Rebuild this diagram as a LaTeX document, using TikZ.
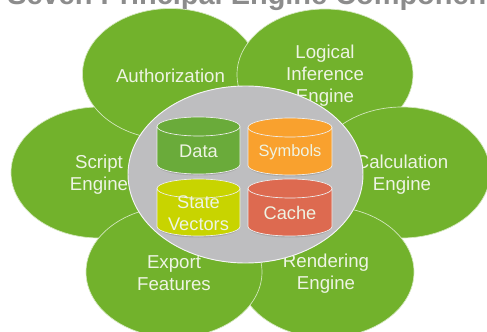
\documentclass[tikz,border=0pt]{standalone}
\usepackage{fontspec}
\setmainfont{Liberation Sans}
\usetikzlibrary{shapes.geometric}

\definecolor{petalgreen}{HTML}{72B22C}
\definecolor{hubgray}{HTML}{BEBEC0}
\definecolor{titlegray}{HTML}{8C8C8C}
\definecolor{labelwhite}{HTML}{EEF4E4}
\definecolor{datagreen}{HTML}{6AAB3A}
\definecolor{symorange}{HTML}{F9A12E}
\definecolor{statelime}{HTML}{C8D400}
\definecolor{cachered}{HTML}{DD6A50}

\tikzset{
  petal/.style={ellipse, draw=white!70!petalgreen, line width=0.5pt, fill=petalgreen, minimum width=132pt, minimum height=98.25pt, inner sep=0pt},
  petaltext/.style={text=labelwhite, align=center, font=\fontsize{14pt}{16.5pt}\selectfont},
  hub/.style={ellipse, draw=white!85!hubgray, line width=0.7pt, fill=hubgray, minimum width=176.25pt, minimum height=132.75pt, inner sep=0pt},
  drumline/.style={draw=white!75!hubgray, line width=0.5pt},
  drumtext/.style={text=labelwhite, align=center, font=\fontsize{13.7pt}{16.5pt}\selectfont}
}

% drum: centre x, top ellipse y, bottom ellipse y, half width, fill colour
\newcommand{\drum}[5]{
  \fill [gray!80, opacity=0.6] (#1-#4+1,#3) -- (#1-#4+1,#3+1.5) arc [start angle=180, end angle=0, x radius=#4-1, y radius=9.5] -- (#1+#4-1,#3) -- cycle;
  \draw [drumline, fill=#5] (#1-#4,#2) -- (#1-#4,#3) arc [start angle=180, end angle=0, x radius=#4, y radius=9.5] -- (#1+#4,#2) arc [start angle=0, end angle=-180, x radius=#4, y radius=9.5] -- cycle;
  \draw [drumline] (#1-#4,#2) arc [start angle=180, end angle=0, x radius=#4, y radius=9.5];
}

\begin{document}
\begin{tikzpicture}[x=0.75pt,y=-0.75pt]
\useasboundingbox (0,0) rectangle (487,332);
\begin{scope}
\clip (0,0) rectangle (487,332);

\node [titlegray, font=\bfseries\fontsize{21.7pt}{24pt}\selectfont, anchor=base west, inner sep=0pt] (title) at (7,4) {Seven Principal Engine Components};

\node [petal] (script) at (99,172.5) {};
\node [petal] (auth) at (170.5,74) {};
\node [petal] (logical) at (325,74.5) {};
\node [petal] (calc) at (402,172.5) {};
\node [petal] (render) at (326,272) {};
\node [petal] (export) at (174,272) {};

\node [petaltext] (scripttext) at (99,174.5) {Script\\Engine};
\node [petaltext] (authtext) at (170.5,76) {Authorization};
\node [petaltext] (logicaltext) at (325,76) {Logical\\Inference\\Engine};
\node [petaltext] (calctext) at (402,174.5) {Calculation\\Engine};
\node [petaltext] (rendertext) at (326,273.5) {Rendering\\Engine};
\node [petaltext] (exporttext) at (174,273.5) {Export\\Features};

\node [hub] (core) at (245.5,174.5) {};

\drum{198.5}{126.5}{164.5}{41.5}{datagreen}
\drum{290}{127.5}{165.5}{42}{symorange}
\drum{198.5}{188.5}{226.5}{41.5}{statelime}
\drum{290}{188.5}{226.5}{42}{cachered}

\node [drumtext] (data) at (198.5,151) {Data};
\node [drumtext, font=\fontsize{12.3pt}{15pt}\selectfont] (symbols) at (290,152) {Symbols};
\node [drumtext] (state) at (198.5,213) {State\\Vectors};
\node [drumtext] (cache) at (290,213) {Cache};
\end{scope}
\end{tikzpicture}
\end{document}
